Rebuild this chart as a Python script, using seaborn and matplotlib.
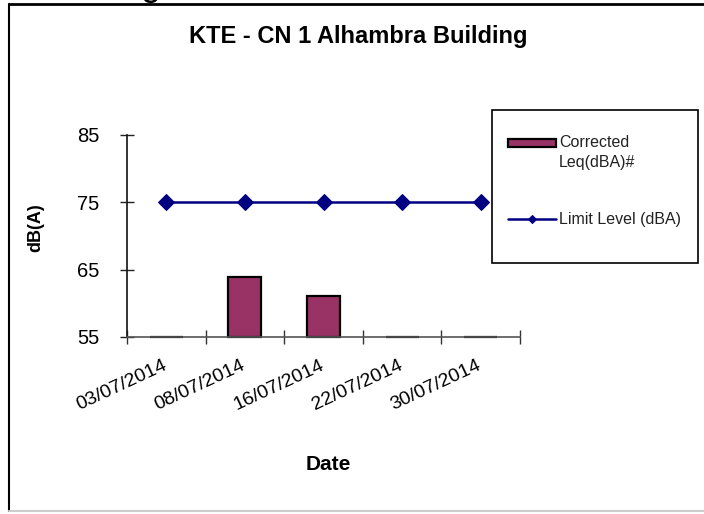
import matplotlib
matplotlib.use("Agg")
import matplotlib.pyplot as plt
import seaborn as sns
from matplotlib.lines import Line2D
from matplotlib.patches import Rectangle
from matplotlib.legend_handler import HandlerPatch
from matplotlib.transforms import ScaledTranslation

dates = ["03/07/2014", "08/07/2014", "16/07/2014", "22/07/2014", "30/07/2014"]
corrected_leq = [55, 63.9, 61.1, 55, 55]
limit_level = [75, 75, 75, 75, 75]
y_ticks = [55, 65, 75, 85]

sns.set_style("white")
plt.rcParams["font.family"] = ["Liberation Sans", "DejaVu Sans"]
plt.rcParams["text.color"] = "black"
plt.rcParams["axes.labelcolor"] = "black"
plt.rcParams["xtick.color"] = "black"
plt.rcParams["ytick.color"] = "black"

fig = plt.figure(figsize=(7.04, 5.14), dpi=100)
ax = fig.add_axes([127 / 704, 1 - 337 / 514, 393 / 704, 202 / 514])

sns.barplot(x=dates, y=corrected_leq, color="#993366", edgecolor="black",
            linewidth=1.6, width=0.42, saturation=1, ax=ax,
            label="Corrected\nLeq(dBA)#")
sns.lineplot(x=dates, y=limit_level, color="#000080", linewidth=1.8,
             marker="D", markersize=8, markeredgecolor="#000080",
             sort=False, ax=ax, label="Limit Level (dBA)")

ymin = y_ticks[0]
ax.set_ylim(ymin, y_ticks[-1])
ax.set_xlim(-0.5, len(dates) - 0.5)
# bars start at the axis floor, not at zero
for p in ax.patches:
    p.set_height(p.get_y() + p.get_height() - ymin)
    p.set_y(ymin)
    p.set_clip_on(False)

ax.set_yticks(y_ticks)
ax.set_xticks(range(len(dates)))
ax.set_xticks([i - 0.5 for i in range(len(dates) + 1)], minor=True)
ax.tick_params(axis="x", which="both", bottom=True)
ax.tick_params(axis="y", left=True)
ax.tick_params(axis="x", which="major", length=0, pad=14, labelsize=14)
ax.tick_params(axis="x", which="minor", direction="inout", length=10,
               width=1, color="#333333")
ax.tick_params(axis="y", direction="inout", length=10, width=1,
               color="#222222", pad=15, labelsize=14.5)
offset = ScaledTranslation(-4 / 100, 0, fig.dpi_scale_trans)
for lab in ax.get_xticklabels():
    lab.set_rotation(25)
    lab.set_ha("right")
    lab.set_rotation_mode("anchor")
    lab.set_transform(lab.get_transform() + offset)

for side in ["top", "right"]:
    ax.spines[side].set_visible(False)
ax.spines["left"].set_color("#111111")
ax.spines["bottom"].set_color("#555555")
ax.spines["left"].set_linewidth(1.2)
ax.spines["bottom"].set_linewidth(1.2)

ax.set_ylabel("dB(A)", fontsize=13, fontweight="bold")
ax.yaxis.set_label_coords((44 - 127) / 393, (337 - 228) / 202)
ax.set_xlabel("")
fig.text(328 / 704, 1 - 464 / 514, "Date", fontsize=15, fontweight="bold",
         ha="center", va="center")
fig.text(358 / 704, 1 - 37 / 514, "KTE - CN 1 Alhambra Building",
         fontsize=17, fontweight="bold", ha="center", va="center")

handles, labels = ax.get_legend_handles_labels()
order = [labels.index("Corrected\nLeq(dBA)#"), labels.index("Limit Level (dBA)")]
handles = [handles[i] for i in order]
labels = [labels[i] for i in order]
bar_handle = handles[0].patches[1]
handles[0] = bar_handle
ax.get_legend().remove()


def top_line_patch(legend, orig_handle, xdescent, ydescent, width, height, fontsize):
    # put the bar swatch beside the first text line, as the reference does
    return Rectangle((-xdescent, -ydescent + 0.62 * fontsize), width, height)


leg = fig.legend(handles, labels, loc="upper left",
                 bbox_to_anchor=(508 / 704, 1 - 135 / 514),
                 frameon=False, fontsize=11.5, borderpad=0,
                 handlelength=3.0, handleheight=0.45, handletextpad=0.2,
                 labelspacing=2.6, borderaxespad=0,
                 handler_map={bar_handle: HandlerPatch(patch_func=top_line_patch)})
for h in leg.legend_handles:
    if isinstance(h, Line2D):
        h.set_markersize(4)
for t in leg.get_texts():
    t.set_color("#222222")
    t.set_linespacing(1.45)
fig.add_artist(Rectangle((492 / 704, 1 - 263 / 514), 206 / 704, 153 / 514,
                         transform=fig.transFigure, fill=False,
                         edgecolor="black", linewidth=1.2))

# outer chart border
fig.add_artist(Line2D([9 / 704, 9 / 704], [1 - 4 / 514, 1 - 511 / 514],
                      transform=fig.transFigure, color="black", linewidth=1.5))
fig.add_artist(Line2D([9 / 704, 1], [1 - 4 / 514, 1 - 4 / 514],
                      transform=fig.transFigure, color="black", linewidth=2))
fig.add_artist(Line2D([9 / 704, 1], [1 - 511 / 514, 1 - 511 / 514],
                      transform=fig.transFigure, color="#cccccc", linewidth=1.5))
# fragment of text above the chart
fig.text(140 / 704, 1 + 5 / 514, "g", fontsize=26, va="baseline", ha="left")

fig.savefig("out.png", dpi=100)
